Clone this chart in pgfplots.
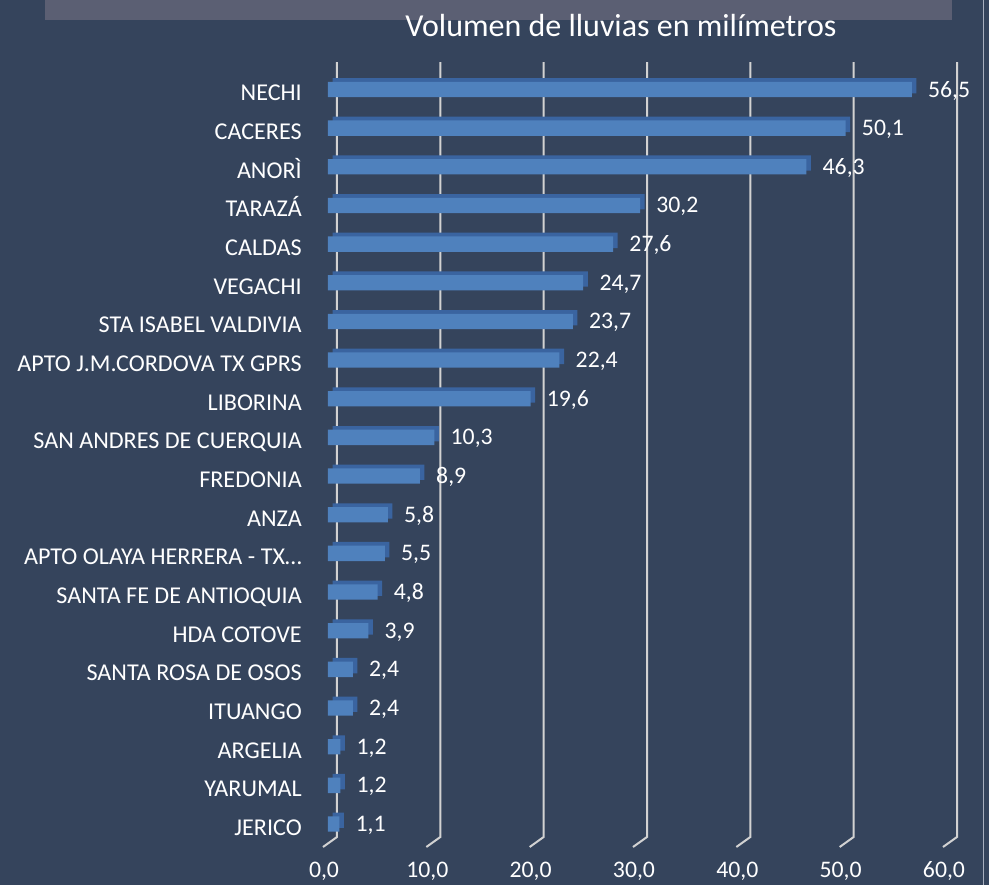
\documentclass[border=0pt]{standalone}
\usepackage{pgfplots}
\pgfplotsset{compat=1.18}
\usepackage{fontspec}
\setmainfont{Carlito}
\definecolor{bg}{HTML}{35445C}
\definecolor{band}{HTML}{5B5F73}
\definecolor{barfront}{HTML}{4F81BD}
\definecolor{bartop}{HTML}{3A64A0}
\definecolor{gridc}{HTML}{D2D2D2}
\definecolor{edgec}{HTML}{A8AFBE}
\pgfplotstableread{
y v
0 1.1
1 1.2
2 1.2
3 2.4
4 2.4
5 3.9
6 4.8
7 5.5
8 5.8
9 8.9
10 10.3
11 19.6
12 22.4
13 23.7
14 24.7
15 27.6
16 30.2
17 46.3
18 50.1
19 56.5
}\datatable
\begin{document}
\begin{tikzpicture}
\fill[bg] (0pt,0pt) rectangle (741.75pt,-663.75pt);
\fill[band] (33.75pt,0pt) rectangle (714pt,-15pt);
\draw[edgec, line width=1.1pt] (737.5pt,0pt) -- (737.5pt,-663.75pt);
\node[anchor=base west, text=white, inner sep=0pt, font=\fontsize{24}{28}\selectfont] at (303.75pt,-27.5pt) {Volumen de lluvias en milímetros};
\begin{axis}[
  anchor=origin, at={(246pt,-618pt)},
  x=7.75pt, y=28.995pt,
  xmin=0, xmax=60, ymin=-0.6, ymax=19.75,
  clip=false,
  axis line style={draw=none},
  major tick length=0pt,
  tick style={draw=none},
  xtick={0,10,...,60},
  ytick={0,...,19},
  yticklabels={JERICO,YARUMAL,ARGELIA,ITUANGO,SANTA ROSA DE OSOS,HDA COTOVE,SANTA FE DE ANTIOQUIA,APTO OLAYA HERRERA - TX\dots,ANZA,FREDONIA,SAN ANDRES DE CUERQUIA,LIBORINA,APTO J.M.CORDOVA TX GPRS,STA ISABEL VALDIVIA,VEGACHI,CALDAS,TARAZÁ,ANORÌ,CACERES,NECHI},
  /pgf/number format/.cd, fixed, fixed zerofill, precision=1, use comma, assume math mode=true,
  /pgfplots/.cd,
  yticklabel style={anchor=base east, inner sep=0pt, xshift=-19.5pt, yshift=-8.5pt, text=white, font=\fontsize{18.1}{21}\selectfont},
  xticklabel style={anchor=base, inner sep=0pt, xshift=-3pt, yshift=-23pt, text=white, font=\fontsize{17.8}{20}\selectfont},
]
\pgfplotsinvokeforeach{0,10,20,30,40,50,60}{
  \addplot[gridc, line width=1.5pt, forget plot] coordinates {({#1+0.871},19.71) ({#1+0.871},-0.336) ({#1-0.484},-0.595)};
}
\addplot[xbar, bar shift=0pt, bar width=11.5pt, fill=bartop, draw=none, xshift=3.4pt, yshift=2.8pt, forget plot] table[x=v, y=y] {\datatable};
\addplot[xbar, bar shift=0pt, bar width=11.5pt, fill=barfront, draw=none,
  point meta=x, nodes near coords, nodes near coords align={horizontal},
  every node near coord/.append style={anchor=west, inner sep=0pt, xshift=12pt, yshift=-1pt, text=white, font=\fontsize{17.8}{20}\selectfont,
    /pgf/number format/.cd, fixed, fixed zerofill, precision=1, use comma, assume math mode=true}]
  table[x=v, y=y] {\datatable};
\end{axis}
\pgfresetboundingbox
\useasboundingbox (0pt,0pt) rectangle (741.75pt,-663.75pt);
\end{tikzpicture}
\end{document}
